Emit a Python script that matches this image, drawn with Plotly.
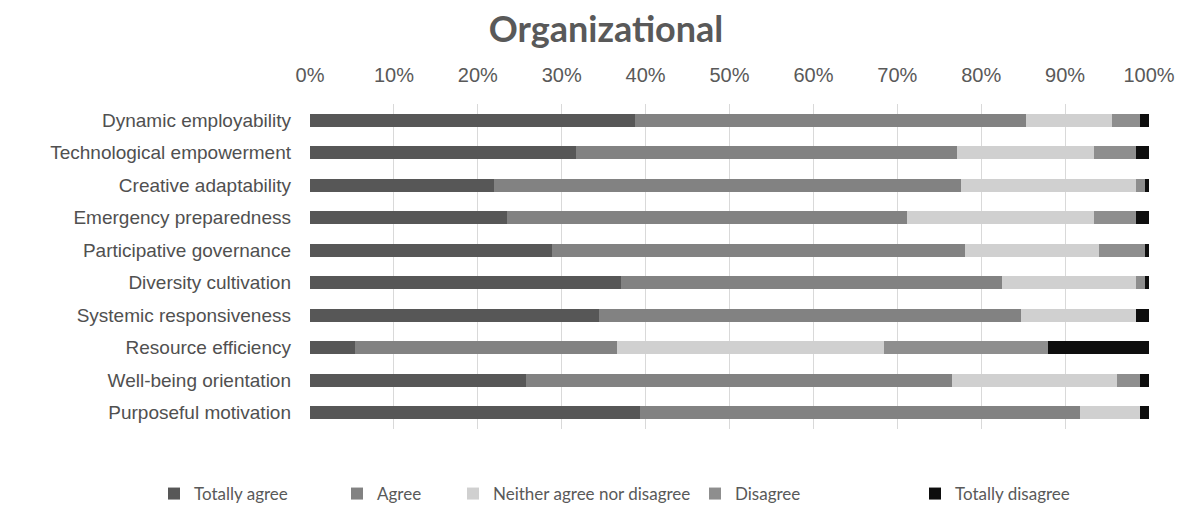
import plotly.graph_objects as go

categories = [
    "Dynamic employability",
    "Technological empowerment",
    "Creative adaptability",
    "Emergency preparedness",
    "Participative governance",
    "Diversity cultivation",
    "Systemic responsiveness",
    "Resource efficiency",
    "Well-being orientation",
    "Purposeful motivation",
]

totally_agree = [38.7, 31.7, 21.9, 23.5, 28.9, 37.1, 34.4, 5.4, 25.7, 39.3]
agree = [46.6, 45.4, 55.7, 47.6, 49.2, 45.4, 50.3, 31.2, 50.8, 52.5]
neither = [10.3, 16.4, 20.8, 22.4, 15.9, 15.9, 13.7, 31.8, 19.7, 7.1]
disagree = [3.3, 4.9, 1.1, 4.9, 5.5, 1.1, 0.0, 19.6, 2.7, 0.0]
totally_disagree = [1.1, 1.6, 0.5, 1.6, 0.5, 0.5, 1.6, 12.0, 1.1, 1.1]

series_names = ["Totally agree", "Agree", "Neither agree nor disagree", "Disagree", "Totally disagree"]
series_values = [totally_agree, agree, neither, disagree, totally_disagree]
colors = ["#575757", "#828282", "#d0d0d0", "#8e8e8e", "#0e0e0e"]

tick_vals = list(range(0, 101, 10))
tick_text = [f"{v}%" for v in tick_vals]

W, H = 1182, 506
legend_x_px = [154, 337, 453, 695, 915]

fig = go.Figure()
for i, (name, vals, col) in enumerate(zip(series_names, series_values, colors)):
    lg = "legend" if i == 0 else f"legend{i+1}"
    fig.add_trace(go.Bar(
        y=categories, x=vals, name=name, orientation="h",
        marker=dict(color=col, line=dict(width=0)),
        legend=lg,
    ))

layout_legends = {}
for i, xp in enumerate(legend_x_px):
    key = "legend" if i == 0 else f"legend{i+1}"
    layout_legends[key] = dict(
        orientation="h", xref="container", yref="container",
        x=xp / W, y=1 - 494 / H, xanchor="left", yanchor="middle",
        font=dict(family="Lato, 'Open Sans', sans-serif", size=17, color="#595959"),
        bgcolor="rgba(0,0,0,0)", itemclick=False,
    )

fig.update_layout(
    width=W, height=H,
    barmode="stack", bargap=0.6,
    plot_bgcolor="white", paper_bgcolor="white",
    margin=dict(l=310, r=33, t=104, b=77, autoexpand=False),
    title=dict(
        text="<b>Organizational</b>",
        x=606 / W, xanchor="center", y=1 - 29 / H, yanchor="middle",
        font=dict(family="Lato, 'Open Sans', sans-serif", size=36, color="#595959"),
    ),
    xaxis=dict(
        side="top", range=[0, 100], tickvals=tick_vals, ticktext=tick_text,
        showgrid=True, gridcolor="#d9d9d9", gridwidth=1,
        zeroline=False, showline=False, ticks="",
        ticklabelstandoff=17, automargin=False,
        tickfont=dict(family="'Liberation Sans', Arial, sans-serif", size=20, color="#595959"),
        fixedrange=True,
    ),
    yaxis=dict(
        autorange="reversed", showgrid=False, zeroline=False, showline=False, ticks="",
        ticklabelstandoff=18, automargin=False,
        tickfont=dict(family="'Liberation Sans', Arial, sans-serif", size=19, color="#505050"),
    ),
    showlegend=True,
    **layout_legends,
)

fig.write_html("out.html")
